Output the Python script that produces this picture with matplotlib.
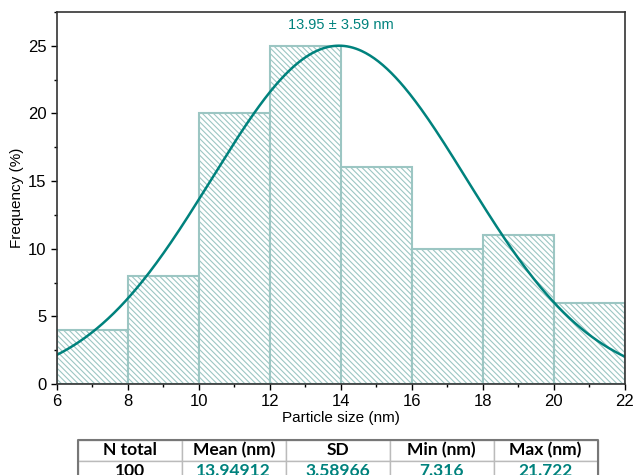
import numpy as np
import matplotlib.pyplot as plt
from matplotlib.ticker import MultipleLocator

# histogram data (bin edges and frequency %)
bin_edges = [6, 8, 10, 12, 14, 16, 18, 20, 22]
freq = [4, 8, 20, 25, 16, 10, 11, 6]

# gaussian fit
mean = 13.94912
sd = 3.58966
peak = 25.0

# stats table
col_labels = ["N total", "Mean (nm)", "SD", "Min (nm)", "Max (nm)"]
row_values = ["100", "13.94912", "3.58966", "7.316", "21.722"]

teal = "#00827d"
bar_col = "#9cc6c3"

plt.rcParams['font.family'] = ['Liberation Sans', 'DejaVu Sans']
plt.rcParams['hatch.linewidth'] = 0.8

fig = plt.figure(figsize=(6.33, 4.75), dpi=100)
ax = fig.add_axes([0.090, 0.1916, 0.897, 0.7834])

widths = np.diff(bin_edges)
ax.bar(bin_edges[:-1], freq, width=widths, align='edge', color='white',
       edgecolor=bar_col, linewidth=1.5, hatch='\\' * 6)

xs = np.linspace(6, 22, 400)
ax.plot(xs, peak * np.exp(-(xs - mean) ** 2 / (2 * sd ** 2)), color=teal, lw=1.8)

ax.text(14, 26.55, "13.95 \u00b1 3.59 nm", color=teal, fontsize=10.5,
        ha='center', va='center')

ax.set_xlim(6, 22)
ax.set_ylim(0, 27.5)
ax.set_xticks(range(6, 23, 2))
ax.set_yticks([0, 5, 10, 15, 20, 25])
ax.xaxis.set_minor_locator(MultipleLocator(1))
ax.yaxis.set_minor_locator(MultipleLocator(2.5))
ax.tick_params(which='major', direction='out', length=4, width=1, labelsize=12)
ax.tick_params(which='minor', direction='out', length=2.5, width=1)
for s in ax.spines.values():
    s.set_color('#333333')
    s.set_linewidth(1.2)
ax.set_xlabel("Particle size (nm)", fontsize=11, labelpad=1)
ax.set_ylabel("Frequency (%)", fontsize=11, labelpad=3)

# table below the chart
tax = fig.add_axes([0.123, -0.012, 0.821, 0.085])
tax.axis('off')
tbl = tax.table(cellText=[row_values], colLabels=col_labels,
                cellLoc='center', bbox=[0, 0, 1, 1])
tbl.auto_set_font_size(False)
for (r, c), cell in tbl.get_celld().items():
    cell.set_edgecolor('#bbbbbb')
    cell.set_linewidth(1)
    txt = cell.get_text()
    txt.set_fontsize(12.5)
    txt.set_fontweight('bold')
    txt.set_fontfamily(['Lato', 'DejaVu Sans'])
    if r == 1 and c > 0:
        txt.set_color(teal)
    else:
        txt.set_color('black')
# darker outer frame
tax.plot([0, 1, 1, 0, 0], [0, 0, 1, 1, 0], color='#777777', lw=1.5,
         transform=tax.transAxes, clip_on=False)

fig.savefig("out.png", dpi=100)
